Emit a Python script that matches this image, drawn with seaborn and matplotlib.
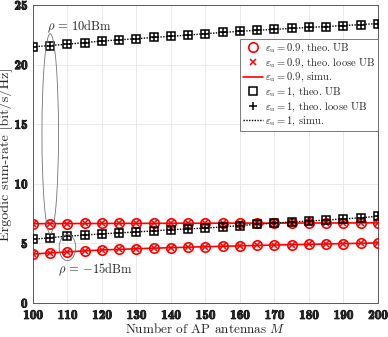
import numpy as np
import pandas as pd
import matplotlib
matplotlib.use("Agg")
import matplotlib.pyplot as plt
import matplotlib.patheffects as pe
import seaborn as sns
from matplotlib.patches import Ellipse
from matplotlib import font_manager as fm
import os

# number of AP antennas
M = list(range(100, 205, 5))

# eps_u = 0.9, rho = 10 dBm
rate_09_high = [6.65, 6.66, 6.66, 6.67, 6.67, 6.68, 6.68, 6.68, 6.69, 6.69, 6.69,
                6.70, 6.70, 6.70, 6.70, 6.71, 6.71, 6.71, 6.71, 6.72, 6.72]
# eps_u = 0.9, rho = -15 dBm
rate_09_low = [4.10, 4.20, 4.28, 4.37, 4.45, 4.50, 4.55, 4.60, 4.64, 4.68, 4.72,
               4.76, 4.79, 4.83, 4.86, 4.89, 4.92, 4.95, 4.98, 5.01, 5.04]
# eps_u = 1, rho = 10 dBm
rate_1_high = [21.50, 21.60, 21.72, 21.85, 21.98, 22.08, 22.18, 22.28, 22.38, 22.48, 22.60,
               22.70, 22.80, 22.88, 22.96, 23.04, 23.12, 23.20, 23.28, 23.36, 23.45]
# eps_u = 1, rho = -15 dBm
rate_1_low = [5.34, 5.48, 5.60, 5.70, 5.80, 5.88, 5.96, 6.05, 6.15, 6.22, 6.28,
              6.38, 6.50, 6.60, 6.70, 6.80, 6.88, 6.96, 7.05, 7.15, 7.28]

x_ticks = list(range(100, 210, 10))
y_ticks = [0, 5, 10, 15, 20, 25]

sns.set_style("whitegrid")
plt.rcParams["font.family"] = ["cmr10", "DejaVu Serif"]
plt.rcParams["mathtext.fontset"] = "cm"
plt.rcParams["axes.formatter.use_mathtext"] = True

# bold Computer Modern for the tick numbers
cmb_path = os.path.join(matplotlib.get_data_path(), "fonts", "ttf", "cmb10.ttf")
if os.path.exists(cmb_path):
    tick_font = fm.FontProperties(fname=cmb_path, size=9.5)
else:
    tick_font = fm.FontProperties(family="DejaVu Serif", weight="bold", size=8.5)

fig = plt.figure(figsize=(3.88, 3.37), dpi=100)
ax = fig.add_axes([0.085, 0.101, 0.889, 0.884])

lbl = r"$\varepsilon_{\rm u}$"
groups = [
    (rate_09_high, rate_09_low, "red", "0.9"),
    (rate_1_high, rate_1_low, "black", "1"),
]

for hi, lo, col, eps in groups:
    for k, vals in enumerate([hi, lo]):
        df = pd.DataFrame({"M": M, "rate": vals})
        first = k == 0
        if col == "red":
            sns.lineplot(data=df, x="M", y="rate", ax=ax, color="red", linewidth=1.2,
                         label=f"{lbl}$ = {eps}$, simu." if first else None, zorder=2)
            sns.lineplot(data=df, x="M", y="rate", ax=ax, color="red", linestyle="",
                         marker="o", markersize=6.8, markerfacecolor="none",
                         markeredgecolor="red", markeredgewidth=1.2,
                         label=f"{lbl}$ = {eps}$, theo. UB" if first else None, zorder=3)
            sns.lineplot(data=df, x="M", y="rate", ax=ax, color="red", linestyle="",
                         marker="x", markersize=4.5, markeredgecolor="red", markeredgewidth=1.1,
                         label=f"{lbl}$ = {eps}$, theo. loose UB" if first else None, zorder=3)
        else:
            sns.lineplot(data=df, x="M", y="rate", ax=ax, color="black", linewidth=1.0,
                         linestyle=(0, (1, 1)),
                         label=f"{lbl}$ = {eps}$, simu." if first else None, zorder=2)
            sns.lineplot(data=df, x="M", y="rate", ax=ax, color="black", linestyle="",
                         marker="s", markersize=5.5, markerfacecolor="none",
                         markeredgecolor="black", markeredgewidth=1.1,
                         label=f"{lbl}$ = {eps}$, theo. UB" if first else None, zorder=3)
            sns.lineplot(data=df, x="M", y="rate", ax=ax, color="black", linestyle="",
                         marker="+", markersize=5.5, markeredgecolor="black", markeredgewidth=1.1,
                         label=f"{lbl}$ = {eps}$, theo. loose UB" if first else None, zorder=3)

# ellipses marking the two transmit powers
ax.add_patch(Ellipse((105, 14.2), 4.8, 16.8, fill=False, edgecolor="0.45", linewidth=0.6, zorder=4))
ax.add_patch(Ellipse((110, 4.65), 4.8, 2.2, fill=False, edgecolor="0.45", linewidth=0.6, zorder=4))
ax.text(104.2, 23.2, r"$\rho$ = 10dBm", fontsize=9, va="center", ha="left")
ax.text(107.2, 2.8, r"$\rho$ = $-$15dBm", fontsize=9, va="center", ha="left")

ax.set_xlim(100, 200)
ax.set_ylim(0, 25)
ax.set_xticks(x_ticks, labels=[str(v) for v in x_ticks], fontproperties=tick_font)
ax.set_yticks(y_ticks, labels=[str(v) for v in y_ticks], fontproperties=tick_font)
for t in ax.get_xticklabels() + ax.get_yticklabels():
    t.set_path_effects([pe.withStroke(linewidth=0.6, foreground="black")])
ax.tick_params(direction="in", length=3, color="0.3")
ax.tick_params(axis="x", pad=5)
ax.tick_params(axis="y", pad=4)
ax.set_xlabel(r"Number of AP antennas $M$", fontsize=9.5, labelpad=0)
ax.set_ylabel(r"Ergodic sum-rate [bit/s/Hz]", fontsize=10.2, labelpad=1)
ax.grid(True, color="0.9", linewidth=0.6)
for s in ax.spines.values():
    s.set_visible(True)
    s.set_color("0.35")
    s.set_linewidth(0.7)

# legend order as in the reference
h, l = ax.get_legend_handles_labels()
order = [1, 2, 0, 4, 5, 3]
leg = ax.legend([h[i] for i in order], [l[i] for i in order], loc="upper right",
                bbox_to_anchor=(1.0, 0.885), fontsize=7.6, frameon=True, fancybox=False,
                edgecolor="0.4", framealpha=1, borderpad=0.25, labelspacing=0.12,
                handlelength=1.9, handletextpad=0.2, borderaxespad=0)
leg.get_frame().set_linewidth(0.6)

fig.savefig("out.png", dpi=100)
